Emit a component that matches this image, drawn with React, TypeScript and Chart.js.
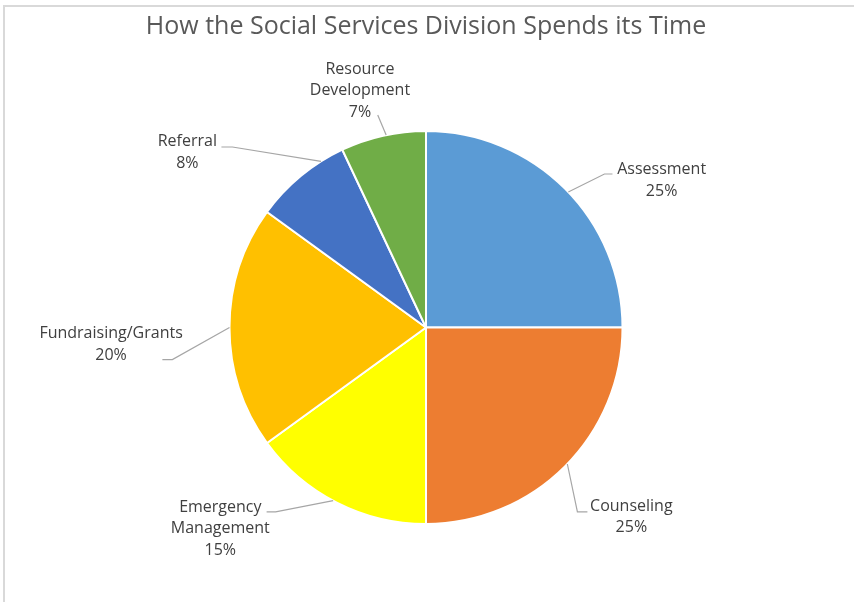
import React, { useEffect, useRef } from "react";
import { Chart, registerables } from "chart.js";

Chart.register(...registerables);

const TITLE = "How the Social Services Division Spends its Time";
const categories = [
  "Assessment",
  "Counseling",
  "Emergency Management",
  "Fundraising/Grants",
  "Referral",
  "Resource Development",
];
const values = [25, 25, 15, 20, 8, 7];
const colors = ["#5B9BD5", "#ED7D31", "#FFFF00", "#FFC000", "#4472C4", "#70AD47"];

// Label layout (degrees clockwise from 12 o'clock, distances as fraction of radius)
const labelTextAngle = [58.0, 132.7, 225.6, 266.9, 306.3, 344.4];
const labelTextDist = [1.414, 1.422, 1.465, 1.605, 1.507, 1.25];
const leaderBendAngle = [49.3, 140.6, 219.2, 262.8, 313.0, 347.2];
const leaderBendDist = [1.198, 1.214, 1.211, 1.301, 1.347, 1.109];
const leaderStartShift = [1.4, -1, 1.2, 0, 7.3, 0.9];
const leaderTip = [8, 10, -9, -10, -11, 0];

const FONT = "16px 'Open Sans', 'Noto Sans', sans-serif";

const labelPlugin = {
  id: "excelLabels",
  afterDatasetsDraw(chart: any) {
    const ctx = chart.ctx;
    const meta = chart.getDatasetMeta(0);
    const total = values.reduce((a, b) => a + b, 0);
    const toRad = (deg: number) => ((deg - 90) * Math.PI) / 180;
    meta.data.forEach((arc: any, i: number) => {
      const p = arc.getProps(["x", "y", "startAngle", "endAngle", "outerRadius"], true);
      const cx = p.x;
      const cy = p.y;
      const r = p.outerRadius;
      const mid = (p.startAngle + p.endAngle) / 2 + (leaderStartShift[i] * Math.PI) / 180;
      const sx = cx + r * Math.cos(mid);
      const sy = cy + r * Math.sin(mid);
      const ba = toRad(leaderBendAngle[i]);
      const bx = cx + leaderBendDist[i] * r * Math.cos(ba);
      const by = cy + leaderBendDist[i] * r * Math.sin(ba);
      ctx.save();
      ctx.strokeStyle = "#A6A6A6";
      ctx.lineWidth = 1.2;
      ctx.beginPath();
      ctx.moveTo(sx, sy);
      ctx.lineTo(bx, by);
      if (leaderTip[i] !== 0) ctx.lineTo(bx + leaderTip[i], by);
      ctx.stroke();

      const ta = toRad(labelTextAngle[i]);
      const tx = cx + labelTextDist[i] * r * Math.cos(ta);
      const ty = cy + labelTextDist[i] * r * Math.sin(ta);
      const lines = categories[i].split(" ");
      lines.push(Math.round((values[i] / total) * 100) + "%");
      const lh = 21.5;
      ctx.fillStyle = "#404040";
      ctx.font = FONT;
      ctx.textAlign = "center";
      ctx.textBaseline = "middle";
      lines.forEach((ln, k) => {
        ctx.fillText(ln, tx, ty + (k - (lines.length - 1) / 2) * lh);
      });
      ctx.restore();
    });
  },
};

export default function App() {
  const ref = useRef<HTMLCanvasElement | null>(null);
  useEffect(() => {
    if (!ref.current) return;
    const chart = new Chart(ref.current, {
      type: "pie",
      data: {
        labels: categories,
        datasets: [
          {
            data: values,
            backgroundColor: colors,
            borderColor: "#FFFFFF",
            borderWidth: 2,
          },
        ],
      },
      options: {
        animation: false,
        responsive: false,
        maintainAspectRatio: false,
        layout: { padding: { top: 0, bottom: 77, left: 0, right: 2 } },
        plugins: {
          legend: { display: false },
          tooltip: { enabled: false },
          title: {
            display: true,
            text: TITLE,
            color: "#595959",
            font: { family: "'Open Sans', 'Noto Sans', sans-serif", size: 25, weight: 400 },
            padding: { top: 12, bottom: 88 },
          },
        },
      },
      plugins: [labelPlugin],
    });
    return () => chart.destroy();
  }, []);
  return (
    <div style={{ position: "absolute", left: 0, top: 0, width: 854, height: 602, background: "#fff" }}>
      <div
        style={{
          position: "absolute",
          left: 3,
          top: 5,
          right: 0,
          bottom: 0,
          borderLeft: "2px solid #D9D9D9",
          borderTop: "2px solid #D9D9D9",
        }}
      />
      <canvas ref={ref} width={854} height={602} style={{ position: "absolute", left: 0, top: 0 }} />
    </div>
  );
}
